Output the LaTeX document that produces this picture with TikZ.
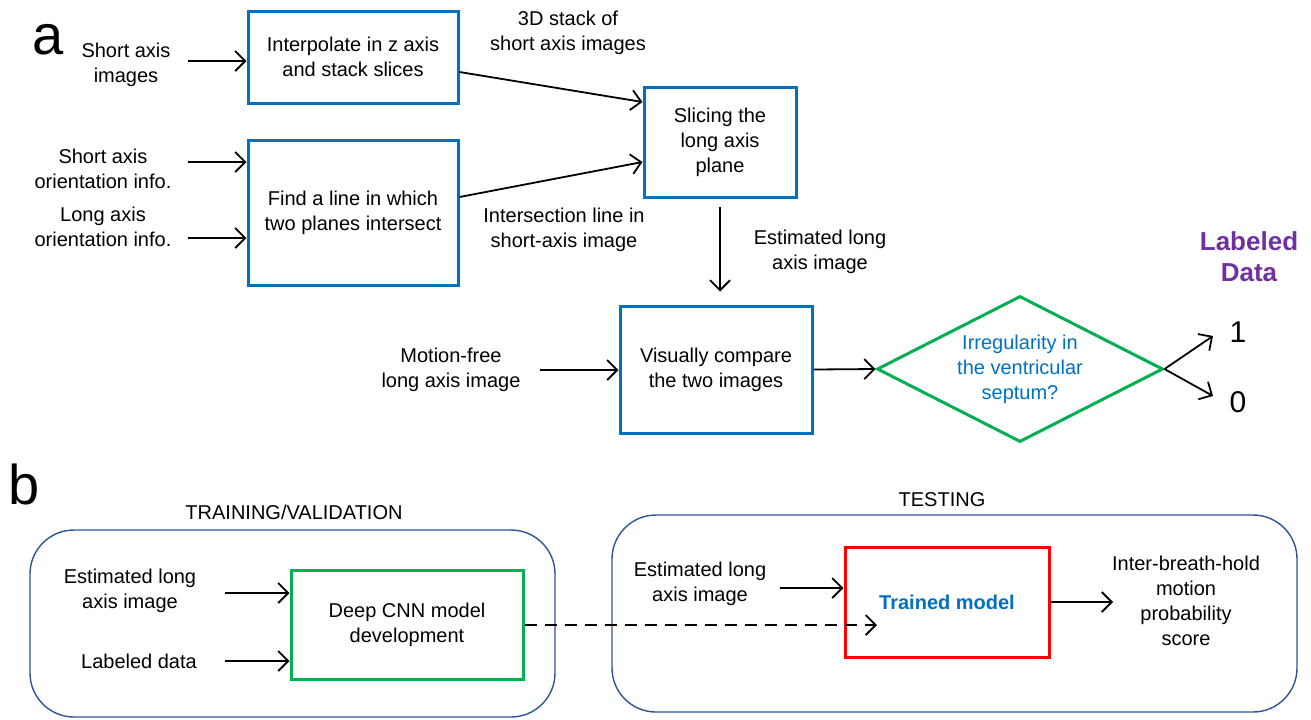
\documentclass[tikz,border=0pt]{standalone}
\usepackage{fontspec}
\setmainfont{Liberation Sans}
\usetikzlibrary{arrows.meta,shapes.geometric}
\definecolor{boxblue}{RGB}{0,112,192}
\definecolor{boxgreen}{RGB}{0,176,80}
\definecolor{labpurple}{RGB}{112,48,160}
\definecolor{framecol}{RGB}{47,85,151}
\begin{document}
\begin{tikzpicture}[x=0.5pt,y=-0.5pt,
  font=\fontsize{10}{12.5}\selectfont,
  txt/.style={align=center,inner sep=0pt},
  bbox/.style={draw=boxblue,line width=1.5pt,align=center,inner sep=0pt},
  conn/.style={-{Straight Barb[length=5pt,width=10pt]},line width=0.9pt},
  frm/.style={draw=framecol,line width=0.7pt,rounded corners=22pt}]
\useasboundingbox (0,0) rectangle (1311,719);
% panel labels
\node[txt,font=\fontsize{28}{30}\selectfont] (la) at (48,40) {a};
\node[txt,font=\fontsize{28}{30}\selectfont] (lb) at (24,484) {b};
% panel a boxes
\node[bbox,minimum width=105pt,minimum height=46pt] (b1) at (353,57) {Interpolate in z axis\\and stack slices};
\node[bbox,minimum width=105pt,minimum height=72.5pt] (b2) at (353,212.5) {Find a line in which\\two planes intersect};
\node[bbox,minimum width=76pt,minimum height=55pt] (b3) at (720,142) {Slicing the\\long axis\\plane};
\node[bbox,minimum width=96pt,minimum height=63.5pt] (b4) at (716,369.5) {Visually compare\\the two images};
\node[diamond,draw=boxgreen,line width=1.5pt,minimum width=143pt,minimum height=73pt,inner sep=0pt] (dia) at (1020,369) {};
\node[txt,text=boxblue] (diat) at (dia) {Irregularity in\\the ventricular\\septum?};
% inputs
\node[txt] (t1) at (126,65) {Short axis\\images};
\node[txt] (t2) at (103,169) {Short axis\\orientation info.};
\node[txt] (t3) at (103,227) {Long axis\\orientation info.};
\node[txt] (t4) at (568,33) {3D stack of\\short axis images};
\node[txt] (t5) at (564,230) {Intersection line in\\short-axis image};
\node[txt] (t6) at (820,252) {Estimated long\\axis image};
\node[txt] (t7) at (451,370) {Motion-free\\long axis image};
\coordinate (i1) at (188,61);
\coordinate (i2) at (188,162);
\coordinate (i3) at (188,238);
\coordinate (i4) at (540,370);
\draw[conn] (i1) -- (i1 -| b1.west);
\draw[conn] (i2) -- (i2 -| b2.west);
\draw[conn] (i3) -- (i3 -| b2.west);
\draw[conn] ([yshift=-7.5pt]b1.east) -- ([yshift=20pt]b3.west);
\draw[conn] ([yshift=7.75pt]b2.east) -- ([yshift=-10pt]b3.west);
\draw[conn] ([yshift=-4pt]b3.south) -- ([yshift=6.5pt]b4.north -| b3.south);
\draw[conn] (i4) -- (i4 -| b4.west);
\draw[conn] (b4.east) -- (dia.west);
\coordinate (o1) at (1213,336);
\coordinate (o0) at (1213,396);
\draw[conn] (dia.east) -- (o1);
\draw[conn] (dia.east) -- (o0);
\node[txt,font=\fontsize{15}{17}\selectfont] (n1) at (1238,332) {1};
\node[txt,font=\fontsize{15}{17}\selectfont] (n0) at (1238,402) {0};
\node[txt,font=\bfseries\fontsize{13}{15.5}\selectfont,text=labpurple] (ld) at (1249,257) {Labeled\\Data};
% panel b
\node[txt] (tv) at (294,512) {TRAINING/VALIDATION};
\node[txt] (te) at (942,500) {TESTING};
\draw[frm] (30,530) rectangle (555,717);
\draw[frm] (612,515) rectangle (1297,712);
\node[draw=boxgreen,line width=1.5pt,align=center,inner sep=0pt,minimum width=116pt,minimum height=54.5pt] (cnn) at (407,624.5) {Deep CNN model\\development};
\node[draw=red,line width=1.5pt,align=center,inner sep=0pt,minimum width=102pt,minimum height=55pt,text=boxblue,font=\bfseries\fontsize{10}{12.5}\selectfont] (tm) at (947,602) {Trained model};
\node[txt] (e1) at (130,591) {Estimated long\\axis image};
\node[txt] (ldt) at (139,661) {Labeled data};
\node[txt] (e2) at (700,584) {Estimated long\\axis image};
\node[txt] (sc) at (1186,601) {Inter-breath-hold\\motion\\probability\\score};
\coordinate (j1) at (225,593);
\coordinate (j2) at (225,661);
\coordinate (j3) at (780,588);
\coordinate (j4) at (877,625);
\coordinate (j5) at (1113,602);
\draw[conn] (j1) -- (j1 -| cnn.west);
\draw[conn] (j2) -- (j2 -| cnn.west);
\draw[conn] (j3) -- (j3 -| tm.west);
\draw[conn,dashed,dash pattern=on 6pt off 4pt] (cnn.east |- j4) -- (j4);
\draw[conn] (tm.east |- j5) -- (j5);
\end{tikzpicture}
\end{document}
